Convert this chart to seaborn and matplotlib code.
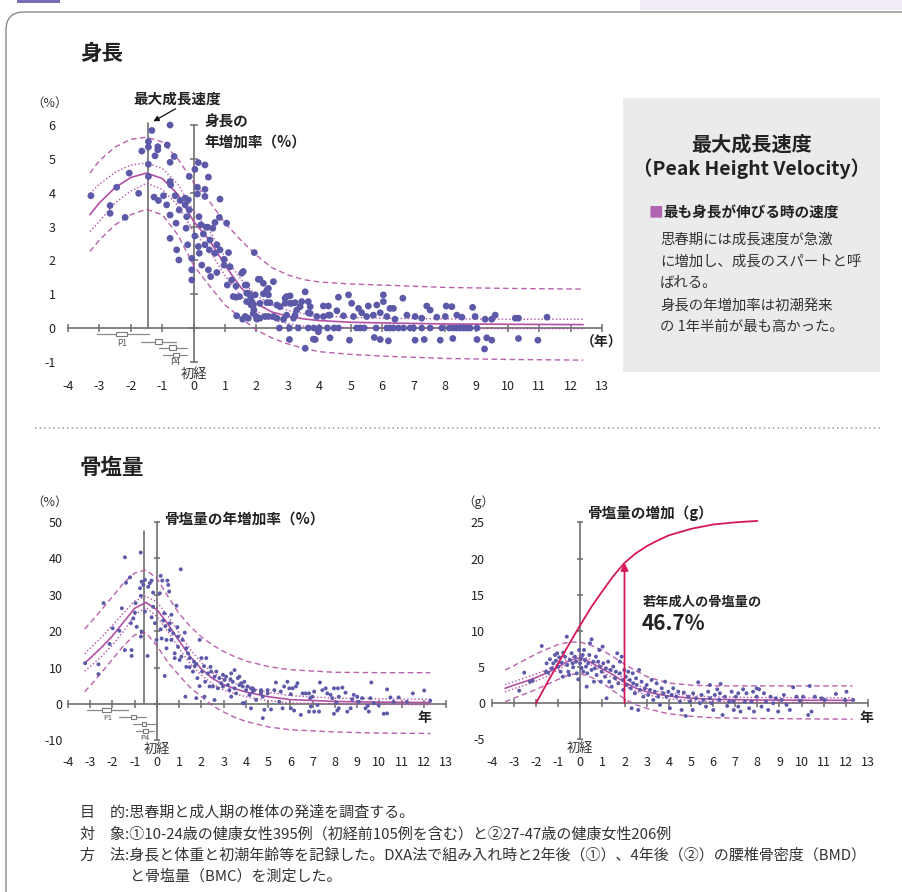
import numpy as np
import pandas as pd
import matplotlib
matplotlib.use("Agg")
import matplotlib.pyplot as plt
import seaborn as sns
from matplotlib.patches import Rectangle, FancyBboxPatch
from matplotlib.lines import Line2D
from matplotlib.transforms import IdentityTransform

sns.set_theme(style="white")
plt.rcParams['font.family'] = ['Noto Sans CJK JP', 'DejaVu Sans']
plt.rcParams['axes.unicode_minus'] = False

# ---------------- data: top panel (身長の年増加率 %) ----------------
top_x = [-3.27,-2.66,-2.66,-2.45,-2.18,-2.05,-1.75,-1.65,-1.44,-1.44,-1.44,-1.44,-1.33,-0.75,-1.26,-1.14,-1.14,-1.23,-1.12,-0.96,
         -0.84,-0.75,-0.62,-0.75,-0.73,-0.86,-0.75,-0.75,-0.59,-0.56,-0.54,-0.47,-0.46,-0.43,-0.27,-0.27,-0.24,-0.22,-0.17,-0.14,
         -0.14,-0.19,-0.06,-0.06,-0.06,0.04,0.04,0.15,0.12,0.12,0.17,0.23,0.15,0.18,0.26,0.36,0.36,0.36,0.40,0.31,
         0.36,0.47,0.45,0.52,0.50,0.47,0.54,0.61,0.68,0.74,0.68,0.74,0.82,0.84,0.84,0.97,0.97,1.05,1.11,1.16,
         1.07,1.21,1.35,1.35,1.46,1.53,1.64,1.74,1.82,1.90,1.93,1.92,1.37,1.56,1.74,2.01,2.06,1.69,1.26,
         2.11,2.22,2.54,2.33,2.38,2.43,1.58,1.83,1.99,2.11,2.27,2.65,2.75,2.91,3.07,3.07,3.23,3.28,3.39,3.44,
         3.55,3.71,3.65,4.13,4.29,4.13,4.29,2.96,3.18,2.86,2.65,2.38,1.64,1.69,1.80,1.96,2.22,2.96,1.85,2.11,
         2.33,2.91,3.12,3.65,4.61,4.93,5.03,5.25,5.56,5.83,6.04,6.04,6.25,6.36,6.66,7.42,7.53,8.04,8.22,8.88,
         11.25,1.90,2.54,3.23,3.71,3.92,4.34,4.56,4.77,5.09,5.35,5.51,5.72,5.94,6.15,6.41,6.79,7.05,7.26,7.74,
         8.01,8.38,8.54,8.96,9.28,9.49,9.60,10.24,10.34,2.38,1.69,
         2.73,3.05,3.33,3.65,3.83,4.00,4.26,4.47,4.61,5.19,5.30,5.43,5.81,6.15,6.25,6.36,6.52,6.68,6.89,7.00,
         7.26,7.53,7.90,8.14,8.27,8.38,8.48,8.59,8.70,8.80,9.02,
         3.05,3.55,3.87,4.34,4.96,5.75,5.94,6.20,7.05,7.34,7.85,8.25,9.02,9.33,9.49,9.26,10.34,10.96,3.97,3.81]
top_y = [3.91,3.62,3.39,4.16,3.27,4.58,3.98,5.23,4.48,4.84,5.35,5.51,5.84,6.00,3.87,5.36,5.27,5.09,3.77,3.91,
         5.41,4.90,5.07,4.33,4.23,3.64,3.34,2.65,3.91,3.10,2.31,2.01,3.49,3.77,3.84,3.64,2.95,3.29,3.79,4.48,
         3.49,2.46,2.06,1.72,1.42,2.72,4.69,4.89,4.16,3.96,3.29,3.05,2.41,2.21,1.86,4.82,4.10,3.89,2.98,2.78,
         2.46,4.46,2.98,2.60,2.31,1.72,1.52,2.95,3.12,2.46,2.21,1.64,3.27,3.81,2.31,2.03,1.86,3.10,2.23,1.81,
         1.27,1.42,1.24,0.91,0.93,1.62,1.27,1.03,0.93,0.68,2.23,0.53,0.36,0.26,0.29,0.26,1.44,0.78,0.93,
         1.44,1.32,1.37,1.12,0.98,0.75,1.67,0.68,0.34,0.29,0.34,0.68,0.63,0.88,0.95,0.73,0.75,0.53,0.63,0.78,
         1.07,0.63,0.45,0.65,0.65,0.34,0.38,0.38,0.29,0.26,0.29,0.34,0.34,1.03,0.98,0.98,1.01,0.93,0.78,0.73,
         0.75,0.73,0.73,0.78,0.91,0.98,0.73,0.58,0.65,0.68,0.98,0.78,0.58,0.58,0.88,0.65,0.53,0.65,0.63,0.61,
         0.32,0.43,0.34,0.38,0.43,0.34,0.38,0.51,0.36,0.34,0.45,0.34,0.38,0.45,0.34,0.26,0.38,0.34,0.29,0.32,
         0.34,0.38,0.32,0.34,0.26,0.26,0.38,0.29,0.29,1.17,1.27,
         0,0,0,0,0,0,0,0,0,0,0,0,0,0,0,0,0,0,0,0,
         0,0,0,0,0,0,0,0,0,0,0,
         -0.34,-0.60,-0.34,-0.29,-0.36,-0.28,-0.34,-0.38,-0.36,-0.34,-0.36,-0.31,-0.34,-0.29,-0.36,-0.62,-0.31,-0.36,-0.11,-0.33]

top_cx = [-3.3,-3.0,-2.5,-2.0,-1.5,-1.0,-0.5,0.0,0.5,1.0,1.5,2.0,2.5,3.0,3.5,4.0,5.0,6.0,8.0,10.0,12.4]
top_mean = [3.35,3.70,4.15,4.45,4.58,4.42,3.95,3.15,2.60,1.85,1.20,0.72,0.47,0.35,0.27,0.22,0.17,0.15,0.12,0.11,0.10]
top_p1 = [3.98,4.25,4.60,4.82,4.88,4.72,4.25,3.45,2.88,2.10,1.45,0.95,0.68,0.52,0.42,0.36,0.31,0.29,0.27,0.26,0.26]
top_m1 = [2.85,3.15,3.70,4.05,4.28,4.10,3.62,2.85,2.30,1.55,0.95,0.50,0.25,0.13,0.06,0.03,0.01,0.00,-0.01,-0.02,-0.02]
top_p2 = [4.58,4.95,5.35,5.58,5.64,5.50,5.00,4.30,3.75,3.10,2.60,2.15,1.78,1.57,1.43,1.36,1.30,1.27,1.20,1.17,1.15]
top_m2 = [2.26,2.60,3.05,3.35,3.51,3.35,2.75,1.85,1.25,0.68,0.30,-0.06,-0.30,-0.47,-0.60,-0.70,-0.78,-0.83,-0.90,-0.93,-0.95]

# puberty stage glyphs (P1..P4)
top_p_lo = [-3.09,-1.68,-1.09,-0.96]
top_p_hi = [-1.41,-0.57,-0.22,-0.22]
top_b_lo = [-2.48,-1.23,-0.77,-0.67]
top_b_hi = [-2.13,-1.02,-0.57,-0.46]
top_p_y = [-0.18,-0.40,-0.58,-0.80]

# ---------------- data: bottom-left (骨塩量の年増加率 %) ----------------
bl_x = [-3.23,-2.63,-2.63,-2.40,-2.13,-1.99,-1.69,-1.58,-1.44,-1.39,-1.44,-1.21,-1.17,-1.14,-1.14,-1.06,-0.99,-0.96,-0.91,-0.76,
        -0.73,-0.69,-0.72,-0.72,-0.69,-0.61,-0.54,-0.54,-0.42,-0.39,-0.32,-0.24,-0.24,-0.17,-0.17,-0.09,-0.02,0.13,0.17,0.17,
        0.21,0.24,0.28,0.33,0.35,0.38,0.43,0.43,0.47,0.51,0.55,0.58,0.58,0.65,0.65,0.73,0.80,0.80,0.88,0.92,
        0.95,0.95,1.07,1.02,1.10,1.15,1.25,1.28,1.32,1.32,1.40,1.47,1.47,1.62,1.67,1.70,1.77,1.82,1.92,1.92,
        2.00,2.03,2.12,2.14,2.17,2.22,2.29,2.37,2.41,2.44,2.52,2.59,2.67,2.74,2.81,2.89,2.97,2.97,3.04,3.11,
        3.19,3.26,3.31,3.34,3.41,3.49,3.49,3.56,3.64,3.71,3.71,3.79,3.86,3.86,3.93,4.01,4.08,4.16,4.23,4.31,
        4.38,4.46,4.68,4.83,4.76,4.98,4.23,3.93,1.77,2.59,3.34,
        4.31,4.68,4.68,4.98,5.28,5.35,5.57,5.72,5.87,5.95,6.10,6.02,6.25,6.32,5.50,5.13,5.65,6.02,6.17,6.47,
        4.76,6.55,6.69,6.84,6.89,6.99,7.07,6.92,6.84,7.07,7.29,7.22,7.33,7.44,7.59,7.66,7.81,7.89,7.96,8.08,
        8.14,8.18,8.34,8.48,8.56,8.71,8.78,8.85,9.01,7.96,8.11,8.18,9.08,9.23,9.38,9.48,9.53,9.60,9.64,9.75,
        9.97,10.20,10.35,10.35,10.50,10.64,10.87,11.24,11.51,12.02,12.29]
bl_y = [11.2,10.9,8.2,27.7,16.5,20.8,20.1,26.3,14.8,33.3,40.3,34.8,22.2,14.8,13.2,23.5,25.1,27.7,21.2,31.8,
        41.6,33.6,29.7,18.5,19.9,32.7,34.1,25.4,13.2,32.2,33.2,33.9,23.8,26.7,30.6,22.2,17.6,30.4,35.2,20.5,
        18.0,33.9,22.9,24.9,7.7,21.4,17.6,15.3,33.9,32.7,30.9,22.2,20.3,24.5,17.6,19.4,13.9,12.6,27.0,21.1,
        18.5,15.7,37.0,12.1,13.0,17.6,19.6,2.0,15.3,10.2,13.9,12.6,10.1,8.9,11.6,10.4,11.0,7.1,17.6,4.9,
        12.6,8.9,10.4,2.0,6.1,12.6,8.4,4.8,10.2,8.9,4.8,7.5,8.9,4.3,7.1,5.7,4.8,8.0,6.6,7.5,
        5.2,3.8,6.8,8.4,6.1,9.3,4.3,2.9,7.1,7.5,5.2,5.7,4.8,0.2,6.1,3.8,4.8,2.5,4.3,3.4,
        3.8,1.1,3.4,-1.6,2.0,3.8,-1.2,0.2,1.6,1.1,2.0,
        4.3,3.8,2.9,2.9,3.8,5.9,3.4,4.8,6.1,4.3,4.3,2.7,4.8,5.7,0.6,-1.5,-1.2,-1.2,-1.8,-3.0,
        -3.9,2.9,2.9,2.9,1.6,2.0,3.4,-0.7,-2.1,-2.1,-2.1,-0.3,5.9,3.8,4.3,2.9,2.5,1.6,4.3,0.4,
        4.3,2.0,4.5,3.1,-2.1,-1.2,1.3,2.5,2.0,-2.7,-1.8,-1.2,0.6,1.6,-1.2,-0.5,-2.1,1.6,5.9,0.2,
        -0.3,-2.7,-2.6,4.0,1.8,0.6,1.8,0.6,2.9,3.7,0.9]

bl_cx = [-3.25,-3.0,-2.5,-2.0,-1.5,-1.0,-0.5,0.0,0.5,1.0,1.5,2.0,2.5,3.0,3.5,4.0,5.0,6.0,8.0,10.0,12.3]
bl_mean = [11.2,12.6,15.5,18.7,22.5,26.3,27.9,25.9,21.9,17.3,13.0,9.6,7.0,5.3,4.2,3.3,2.0,1.2,0.7,0.5,0.4]
bl_p1 = [13.8,15.3,18.3,21.6,25.0,28.3,29.6,28.0,24.2,19.5,15.0,11.3,8.6,6.8,5.6,4.6,3.2,2.3,1.6,1.4,1.3]
bl_m1 = [9.0,10.3,13.0,16.2,20.0,24.5,26.5,24.0,19.8,15.2,11.0,7.9,5.5,3.8,2.8,2.0,0.9,0.3,0.0,-0.1,-0.2]
bl_p2 = [20.6,22.3,25.8,29.5,33.2,36.0,36.8,34.5,29.5,24.8,21.3,18.4,16.2,14.4,13.0,11.8,10.3,9.4,8.7,8.6,8.6]
bl_m2 = [3.4,5.0,8.6,12.3,16.0,19.0,19.6,16.0,11.4,7.8,4.5,2.0,-0.5,-2.2,-3.7,-4.8,-6.3,-7.1,-7.7,-8.0,-8.1]

bl_p_lo = [-3.15,-1.70,-1.06,-0.96]
bl_p_hi = [-1.28,-0.47,-0.09,-0.12]
bl_b_lo = [-2.45,-1.18,-0.69,-0.61]
bl_b_hi = [-2.06,-0.94,-0.47,-0.39]
bl_p_y = [-1.65,-3.5,-5.5,-7.3]

# ---------------- data: bottom-right (骨塩量の増加 g) ----------------
br_x = [-2.76,-2.53,-2.27,-2.15,-1.74,-1.52,-1.55,-1.45,-1.37,-1.29,-1.22,-1.14,-1.10,-1.04,-0.99,-0.95,-0.89,-0.84,-0.79,-0.77,
        -0.69,-0.61,-0.59,-0.54,-0.50,-0.47,-0.39,-0.34,-0.32,-0.24,-0.19,-0.16,-0.09,-0.05,-0.01,0.03,0.06,0.11,0.14,0.17,
        0.21,0.26,0.29,0.32,0.36,0.41,0.44,0.51,0.51,0.59,0.62,0.66,0.71,0.74,0.81,0.86,0.89,0.93,0.97,1.01,
        1.04,1.12,1.16,1.19,1.26,1.31,1.37,1.42,1.49,1.57,1.61,1.67,1.72,1.79,1.79,1.87,1.92,1.94,1.99,2.06,
        2.10,2.17,2.24,2.28,2.32,2.37,2.39,2.47,2.52,2.55,2.62,2.66,2.70,2.77,2.85,2.92,3.00,3.07,3.15,3.22,
        3.30,3.37,3.45,3.52,3.60,3.68,3.75,3.83,3.90,3.98,4.05,4.13,4.20,4.35,4.43,4.50,4.58,4.68,4.77,4.88,
        4.95,5.08,5.10,5.23,5.33,5.41,5.48,5.56,5.68,5.78,5.86,5.94,6.01,6.08,6.19,6.28,6.34,6.43,6.54,6.64,
        6.73,6.84,6.94,7.03,7.14,7.24,7.36,7.44,7.51,7.63,7.74,7.85,7.97,8.08,8.19,8.30,8.39,8.49,8.60,8.72,
        8.84,8.94,9.10,9.20,9.32,9.47,9.62,9.77,9.92,10.07,10.30,10.37,10.45,10.60,10.90,11.05,11.55,11.96,12.03,12.33,
        7.14,6.91,5.86,6.31,7.97,7.81]
br_y = [1.74,4.23,2.98,3.12,7.91,5.52,4.36,4.23,6.08,4.83,5.52,6.67,5.88,6.91,5.06,6.35,4.36,5.61,3.67,6.99,
        6.44,9.20,5.29,4.36,3.91,5.98,6.91,5.52,4.97,6.44,5.75,4.14,3.31,7.36,5.52,6.22,4.83,6.67,4.36,7.36,
        5.98,5.06,2.29,4.14,5.52,6.67,8.29,8.84,4.60,5.75,2.98,4.83,6.44,3.91,5.75,7.36,5.06,2.98,4.36,7.82,
        5.52,3.67,4.83,0.69,5.75,2.98,4.60,2.29,5.06,3.45,4.36,6.91,2.76,5.75,4.14,6.44,3.22,1.84,4.60,3.67,
        2.53,4.36,3.22,2.07,-0.69,4.14,2.76,1.38,3.45,2.53,-0.93,4.60,1.84,2.98,0.91,2.07,2.53,1.15,1.84,3.22,
        0.46,1.60,2.76,0.91,-0.23,2.07,1.38,2.98,0.91,1.60,-0.69,1.15,2.07,0.91,1.60,0.23,-0.93,1.47,-1.75,0.91,
        0.23,-0.93,1.38,0.69,2.90,0.00,1.15,0.46,-0.46,1.60,0.69,0.00,-0.93,1.15,1.93,0.46,2.67,-1.62,0.91,-0.37,
        0.23,1.60,-0.93,0.91,-0.46,-1.15,1.93,0.23,1.38,-0.69,0.23,-1.15,0.91,1.93,-0.46,1.38,0.23,-0.93,0.91,0.00,
        0.69,-1.15,0.46,1.15,-0.23,-0.93,2.21,0.91,0.36,0.91,-1.62,2.39,-1.15,0.91,0.69,0.46,1.29,0.46,1.60,0.46,
        1.38,0.23,2.53,1.38,2.07,1.60]

br_cx = [-3.4,-3.0,-2.5,-2.0,-1.5,-1.0,-0.5,0.0,0.5,1.0,1.5,2.0,2.5,3.0,3.5,4.0,5.0,6.0,8.0,10.0,12.3]
br_mean = [2.07,2.50,3.00,3.55,4.20,5.00,5.90,6.30,5.60,4.75,3.90,2.90,2.10,1.60,1.25,1.00,0.70,0.55,0.45,0.42,0.40]
br_p1 = [2.57,3.00,3.50,4.05,4.65,5.40,6.25,6.60,5.95,5.15,4.35,3.40,2.55,2.02,1.65,1.38,1.05,0.90,0.80,0.77,0.75]
br_m1 = [1.57,2.00,2.50,3.05,3.75,4.60,5.55,6.00,5.25,4.35,3.45,2.40,1.65,1.18,0.85,0.62,0.35,0.20,0.10,0.07,0.05]
br_p2 = [4.60,5.20,6.00,6.80,7.50,8.10,8.45,8.45,8.00,7.30,6.40,5.40,4.50,3.70,3.20,2.80,2.50,2.40,2.40,2.40,2.40]
br_m2 = [0.20,0.70,1.30,1.90,2.60,3.30,3.95,4.10,3.60,2.80,1.70,0.60,-0.20,-0.70,-1.10,-1.45,-1.80,-2.00,-2.10,-2.15,-2.20]

gain_x = [-2.0,-1.5,-1.0,-0.5,0.0,0.5,1.0,1.5,2.0,2.5,3.0,3.5,4.0,5.0,6.0,7.0,8.0]
gain_y = [0.0,2.8,5.5,8.2,10.8,13.3,15.5,17.6,19.4,20.7,21.7,22.5,23.2,24.1,24.7,25.0,25.2]
arrow_x = 2.0
arrow_top = 19.4

xticks = list(range(-4, 14))

# ---------------- styling ----------------
W, H = 903, 892
PT = "#5d59a9"      # scatter points
CV = "#b24fa6"      # curves
AX = "#6e6e6e"      # axis lines
RED = "#d4185a"
TXT = "#222222"

fig = plt.figure(figsize=(W / 100, H / 100), dpi=100)
fig.patch.set_facecolor("white")


def rect(x0, x1, yt, yb):
    return [x0 / W, 1 - yb / H, (x1 - x0) / W, (yb - yt) / H]


def ptext(x, y, s, **kw):
    kw.setdefault("va", "center")
    kw.setdefault("color", TXT)
    fig.text(x / W, 1 - y / H, s, **kw)


def base_axes(r, ylim, yticks, ypad, xpad):
    ax = fig.add_axes(r)
    ax.patch.set_alpha(0)
    ax.set_xlim(-4.2, 13.2)
    ax.set_ylim(*ylim)
    for s in ax.spines.values():
        s.set_visible(False)
    ax.grid(False)
    ax.set_xticks(xticks)
    ax.set_xticklabels([str(t) for t in xticks])
    ax.set_yticks(yticks)
    ax.set_yticklabels([str(t) for t in yticks])
    ax.tick_params(axis="x", length=0, pad=xpad, labelsize=9, colors=TXT)
    ax.tick_params(axis="y", length=0, pad=ypad, labelsize=9, colors=TXT)
    ax.set_xlabel("")
    ax.set_ylabel("")
    return ax


def draw_curves(ax, cx, mean, p1, m1, p2, m2):
    sns.lineplot(x=cx, y=mean, ax=ax, color=CV, linewidth=1.2, estimator=None, zorder=4)
    for arr in (p1, m1):
        sns.lineplot(x=cx, y=arr, ax=ax, color=CV, linewidth=1.0, estimator=None,
                     linestyle=(0, (1, 1.6)), zorder=4)
    for arr in (p2, m2):
        sns.lineplot(x=cx, y=arr, ax=ax, color=CV, linewidth=1.0, estimator=None,
                     linestyle=(0, (4, 2.5)), alpha=0.9, zorder=4)


def draw_stages(ax, lo, hi, blo, bhi, py, bh):
    for a, b, c, d, y in zip(lo, hi, blo, bhi, py):
        ax.plot([a, b], [y, y], color="#8a8a8a", lw=0.9, zorder=3, clip_on=False)
        ax.add_patch(Rectangle((c, y - bh / 2), d - c, bh, facecolor="white",
                               edgecolor="#7a7a7a", lw=0.8, zorder=4, clip_on=False))


def draw_axes_lines(ax, ylo, yhi, ystep, vtick_ms=5):
    ax.plot([-4, 13], [0, 0], color=AX, lw=1.2, zorder=2)
    ax.plot(xticks, [0] * len(xticks), ls="none", marker="|", ms=6, mew=1.1, color=AX, zorder=2)
    ax.plot([0, 0], [ylo, yhi], color=AX, lw=1.2, zorder=2)
    vt = list(np.arange(ylo, yhi + ystep / 2, ystep))
    ax.plot([0] * len(vt), vt, ls="none", marker="_", ms=vtick_ms, mew=1.1, color=AX, zorder=2)


# ===== top panel =====
ax1 = base_axes(rect(61.7, 608.3, 114.9, 366.9), (-1.15, 6.3), list(range(-1, 7)), 4.5, 9.6)
draw_axes_lines(ax1, -1, 6, 1, vtick_ms=6)
ax1.plot([-1.45, -1.45], [0, 6.05], color=AX, lw=1.2, zorder=2)
draw_curves(ax1, top_cx, top_mean, top_p1, top_m1, top_p2, top_m2)
sns.scatterplot(x=top_x, y=top_y, ax=ax1, color=PT, s=24, edgecolor="none", zorder=5)
draw_stages(ax1, top_p_lo, top_p_hi, top_b_lo, top_b_hi, top_p_y, 0.14)
ax1.text(-2.27, -0.45, "P1", fontsize=6, color="#555", ha="center", va="center")
ax1.text(-0.59, -1.03, "P4", fontsize=6, color="#555", ha="center", va="center")
ax1.text(0, -1.36, "初経", fontsize=9.5, color="#333", ha="center", va="center", clip_on=False)
ax1.annotate("", xy=(-1.36, 6.07), xytext=(-0.5, 6.52),
             arrowprops=dict(arrowstyle="-|>", lw=0.9, color="#111", mutation_scale=8),
             annotation_clip=False)

ptext(80, 53, "身長", fontsize=15.5, fontweight="bold")
ptext(50, 103, "（%）", fontsize=9, ha="center", color="#333")
ptext(133, 99, "最大成長速度", fontsize=10.5, fontweight="bold")
ptext(204, 122, "身長の", fontsize=10.5, fontweight="bold")
ptext(204, 142, "年増加率（%）", fontsize=10.5, fontweight="bold")
ptext(602, 343, "（年）", fontsize=10, fontweight="bold", ha="center")

# gray info box
fig.add_artist(Rectangle((623 / W, 1 - 372 / H), 257 / W, 274 / H, transform=fig.transFigure,
                         facecolor="#ebebeb", edgecolor="none", zorder=-5))
ptext(752, 144, "最大成長速度", fontsize=14.5, fontweight="bold", ha="center")
ptext(752, 169, "（Peak Height Velocity）", fontsize=14, fontweight="bold", ha="center")
ptext(649, 213, "■", fontsize=10.5, color="#b064b0")
ptext(663, 213, "最も身長が伸びる時の速度", fontsize=10.5, fontweight="bold")
for yy, s in zip([240, 262, 283, 306, 327],
                 ["思春期には成長速度が急激", "に増加し、成長のスパートと呼", "ばれる。",
                  "身長の年増加率は初潮発来", "の 1年半前が最も高かった。"]):
    ptext(660, yy, s, fontsize=10.4, color="#333")

# separator
fig.add_artist(Line2D([35 / W, 882 / W], [1 - 428 / H] * 2, transform=fig.transFigure,
                      color="#9a9a9a", lw=1.1, linestyle=(0, (1, 2))))

ptext(80, 468, "骨塩量", fontsize=15.5, fontweight="bold")

# ===== bottom-left =====
ax2 = base_axes(rect(63.55, 450.45, 514.7, 744.0), (-11, 52), list(range(-10, 51, 10)), 0.6, 9.0)
draw_axes_lines(ax2, -10, 50, 10, vtick_ms=5)
ax2.plot([-0.6, -0.6], [0, 47.6], color=AX, lw=1.2, zorder=2)
draw_curves(ax2, bl_cx, bl_mean, bl_p1, bl_m1, bl_p2, bl_m2)
sns.scatterplot(x=bl_x, y=bl_y, ax=ax2, color=PT, s=8, edgecolor="none", zorder=5)
draw_stages(ax2, bl_p_lo, bl_p_hi, bl_b_lo, bl_b_hi, bl_p_y, 1.1)
ax2.text(-2.21, -3.8, "P1", fontsize=5.5, color="#555", ha="center", va="center")
ax2.text(-0.54, -9.4, "P4", fontsize=5.5, color="#555", ha="center", va="center")
ax2.text(0, -12.5, "初経", fontsize=9.5, color="#333", ha="center", va="center", clip_on=False)
ptext(50, 502, "（%）", fontsize=9, ha="center", color="#333")
ptext(164, 519, "骨塩量の年増加率（%）", fontsize=10.5, fontweight="bold")
ptext(424, 718, "年", fontsize=10, fontweight="bold", ha="center")

# ===== bottom-right =====
ax3 = base_axes(rect(487.3, 872.4, 515.1, 743.8), (-5.6, 26), list(range(-5, 26, 5)), 1.7, 9.0)
draw_axes_lines(ax3, -5, 25, 5, vtick_ms=5)
draw_curves(ax3, br_cx, br_mean, br_p1, br_m1, br_p2, br_m2)
sns.scatterplot(x=br_x, y=br_y, ax=ax3, color=PT, s=8, edgecolor="none", zorder=5)
sns.lineplot(x=gain_x, y=gain_y, ax=ax3, color=RED, linewidth=1.3, estimator=None, zorder=6)
ax3.annotate("", xy=(arrow_x, arrow_top), xytext=(arrow_x, 0),
             arrowprops=dict(arrowstyle="-|>", lw=1.3, color=RED, mutation_scale=11,
                             shrinkA=0, shrinkB=0), zorder=6)
ax3.text(0, -6.2, "初経", fontsize=9.5, color="#333", ha="center", va="center", clip_on=False)
ptext(478, 502, "（g）", fontsize=9, ha="center", color="#333")
ptext(587, 513, "骨塩量の増加（g）", fontsize=10.5, fontweight="bold")
ptext(643, 602, "若年成人の骨塩量の", fontsize=9.5, fontweight="bold")
ptext(642, 623, "46.7%", fontsize=15, fontweight="bold")
ptext(866, 718, "年", fontsize=10, fontweight="bold", ha="center")

# ===== notes =====
notes = [(80, 813, "目　的:思春期と成人期の椎体の発達を調査する。"),
         (80, 834, "対　象:①10-24歳の健康女性395例（初経前105例を含む）と②27-47歳の健康女性206例"),
         (80, 855, "方　法:身長と体重と初潮年齢等を記録した。DXA法で組み入れ時と2年後（①）、4年後（②）の腰椎骨密度（BMD）"),
         (130, 876, "と骨塩量（BMC）を測定した。")]
for x, y, s in notes:
    ptext(x, y, s, fontsize=10.8, color="#333")

# ===== frame & decorations =====
fig.add_artist(FancyBboxPatch((6, -30), 940, 892 - 12 + 30,
                              boxstyle="round,pad=0,rounding_size=18",
                              transform=IdentityTransform(), fill=False,
                              edgecolor="#8a8a8a", lw=1.0))
fig.add_artist(Rectangle((17, 889), 43, 3, transform=IdentityTransform(),
                         facecolor="#7d6db8", edgecolor="none"))
fig.add_artist(Rectangle((640, 882), 263, 10, transform=IdentityTransform(),
                         facecolor="#f1ecf5", edgecolor="none", zorder=-6))

fig.savefig("out.png", dpi=100, facecolor="white")
